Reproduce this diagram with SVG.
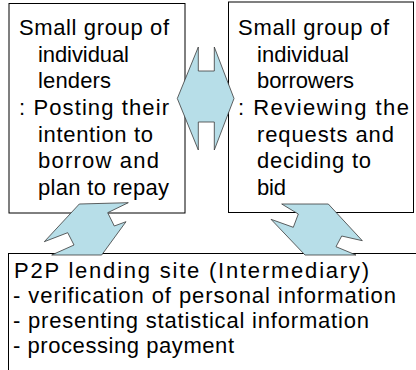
<svg xmlns="http://www.w3.org/2000/svg" width="416" height="370" viewBox="0 0 416 370">
<style>
.box{fill:#fff;stroke:#000;stroke-width:1}
.arr{fill:#B7DEE8;stroke:#3a3a3a;stroke-width:0.8;stroke-linejoin:miter}
text{font-family:"Liberation Sans",Arial,sans-serif;font-size:22px;fill:#000}
</style>
<rect width="416" height="370" fill="#fff"/>
<g id="lenders">
<rect class="box" x="9" y="3.5" width="176" height="209.5"/>
<text x="19" y="35" textLength="150" lengthAdjust="spacing">Small group of</text>
<text x="38" y="61.7" textLength="91" lengthAdjust="spacing">individual</text>
<text x="38" y="88.3" textLength="73" lengthAdjust="spacing">lenders</text>
<text x="19" y="115" textLength="150" lengthAdjust="spacing">: Posting their</text>
<text x="38" y="141.7" textLength="115" lengthAdjust="spacing">intention to</text>
<text x="38" y="168.3" textLength="121" lengthAdjust="spacing">borrow and</text>
<text x="38" y="195" textLength="131" lengthAdjust="spacing">plan to repay</text>
</g>
<g id="borrowers">
<rect class="box" x="228.5" y="2" width="185" height="210.5"/>
<text x="238" y="35" textLength="151" lengthAdjust="spacing">Small group of</text>
<text x="257" y="61.7" textLength="92" lengthAdjust="spacing">individual</text>
<text x="257" y="88.3" textLength="97" lengthAdjust="spacing">borrowers</text>
<text x="238" y="115" textLength="171" lengthAdjust="spacing">: Reviewing the</text>
<text x="257" y="141.7" textLength="137" lengthAdjust="spacing">requests and</text>
<text x="257" y="168.3" textLength="114" lengthAdjust="spacing">deciding to</text>
<text x="257" y="195" textLength="29" lengthAdjust="spacing">bid</text>
</g>
<g id="site">
<rect class="box" x="8.5" y="253.5" width="420" height="130"/>
<text x="14" y="278" textLength="355" lengthAdjust="spacing">P2P lending site (Intermediary)</text>
<text x="13" y="303" textLength="383" lengthAdjust="spacing">- verification of personal information</text>
<text x="13" y="328" textLength="356" lengthAdjust="spacing">- presenting statistical information</text>
<text x="13" y="353" textLength="221" lengthAdjust="spacing">- processing payment</text>
</g>
<g id="connectors">
<polygon class="arr" points="177.3,98.5 198.3,47 198.3,71 214.3,71 214.3,47 234,98.5 214.3,150 214.3,122 198.3,122 198.3,150"/>
<polygon class="arr" points="79.3,204 128.3,202.7 107.7,212.7 114.3,226 126,221.7 101.7,255 51.7,255 74,245 67.7,232.7 44.3,241.7"/>
<polygon class="arr" points="281.7,204 328.3,204 362.3,240.7 341.7,236 336,246.7 356,255 305,255 271,219.3 293.3,227.3 298.3,214"/>
</g>
</svg>
